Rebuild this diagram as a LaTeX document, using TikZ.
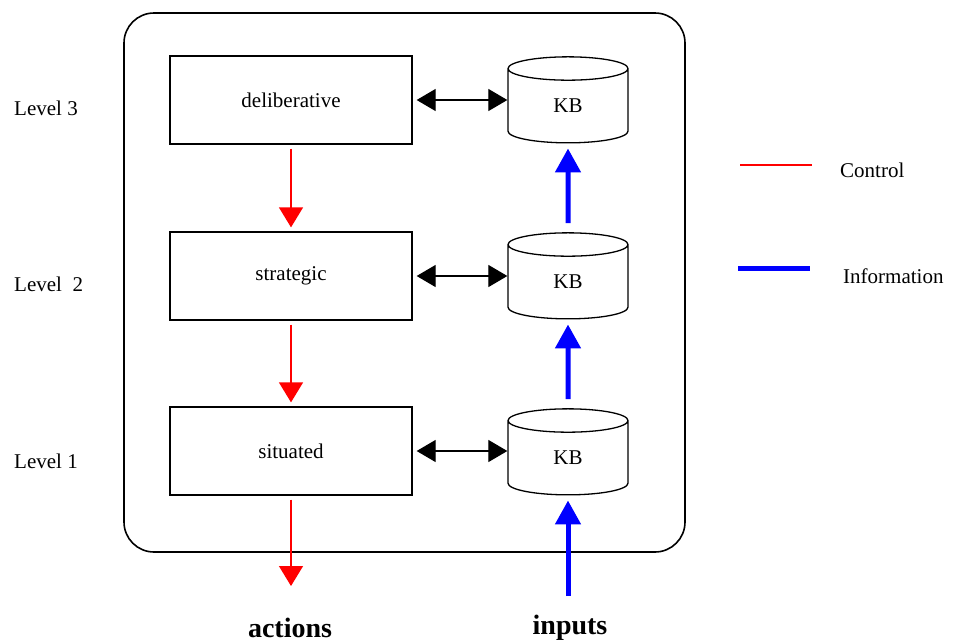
\documentclass[tikz,border=0pt]{standalone}
\usepackage{fontspec}
\setmainfont{Liberation Serif}
\usetikzlibrary{arrows.meta,shapes.geometric}

\begin{document}
\begin{tikzpicture}[
    x=1pt, y=-1pt,
    font=\fontsize{21}{25}\selectfont,
    layer/.style={draw, line width=1.3pt, minimum width=242pt, minimum height=88pt},
    kb/.style={draw, line width=1.3pt, cylinder, shape border rotate=90, aspect=0.8,
        minimum width=120pt, minimum height=86pt, inner sep=0pt},
    talk/.style={line width=1.3pt, {Triangle[length=19pt,width=22pt]}-{Triangle[length=19pt,width=22pt]},
        shorten <=4pt},
    control/.style={red, line width=1.3pt, -{Triangle[length=20pt,width=24pt]}, shorten <=4pt, shorten >=4pt},
    info/.style={blue, line width=5pt, -{Triangle[length=24pt,width=25pt]}, shorten <=9pt, shorten >=5pt},
    label/.style={anchor=west, inner sep=0pt}
    ]
    \useasboundingbox (0,0) rectangle (972,643);
    % outer frame
    \draw[line width=1.6pt, rounded corners=30pt] (124,13) rectangle (685,552);

    % the three layers
    \node[layer] (delib) at (291,100) {deliberative};
    \node[layer] (strat) at (291,276) {strategic};
    \node[layer] (sit) at (291,451) {situated};

    \node[kb] (kb3) at (568,106) {KB};
    \node[kb] (kb2) at (568,282) {KB};
    \node[kb] (kb1) at (568,458) {KB};

    \node[label] (l3) at (14,108) {Level 3};
    \node[label] (l2) at (14,284) {Level\ \ 2};
    \node[label] (l1) at (14,461) {Level 1};

    \draw[talk] (delib.east) -- (delib.east -| kb3.west);
    \draw[talk] (strat.east) -- (strat.east -| kb2.west);
    \draw[talk] (sit.east) -- (sit.east -| kb1.west);

    \coordinate (act) at (291,590);
    \coordinate (inp) at (568,596);
    \draw[control] (delib) -- (strat);
    \draw[control] (strat) -- (sit);
    \draw[control] (sit) -- (act);
    \draw[info] (kb2) -- (kb3);
    \draw[info] (kb1) -- (kb2);
    \draw[info, shorten <=0pt] (inp) -- (kb1);

    \node[font=\fontsize{28}{30}\selectfont\bfseries] (actions) at (290,628) {actions};
    \node[font=\fontsize{28}{30}\selectfont\bfseries] (inputs) at (570,628) {inputs};

    % legend
    \coordinate (c1) at (740,165);
    \coordinate (c2) at (812,165);
    \coordinate (i1) at (738,268);
    \coordinate (i2) at (810,268);
    \draw[red, line width=1.3pt] (c1) -- (c2);
    \draw[blue, line width=5pt] (i1) -- (i2);
    \node[label] (ctl) at (840,170) {Control};
    \node[label] (inf) at (843,276) {Information};
\end{tikzpicture}
\end{document}
